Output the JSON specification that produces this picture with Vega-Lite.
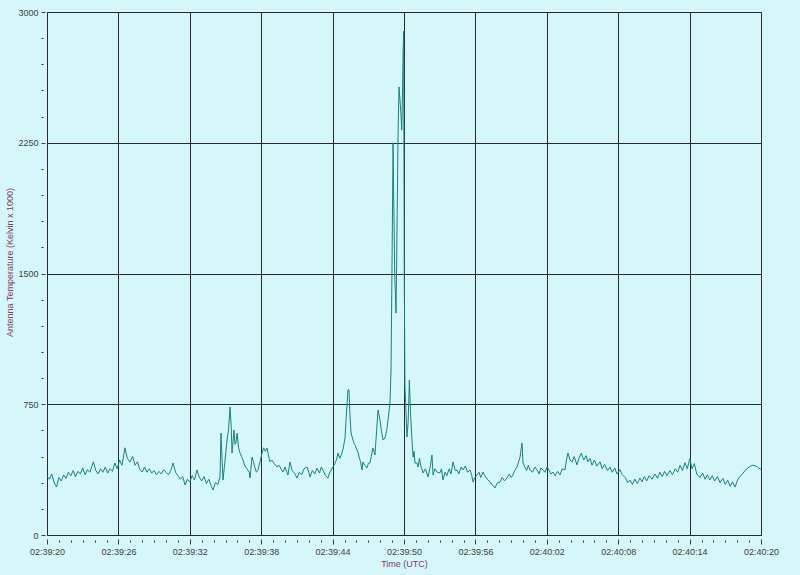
{
  "$schema": "https://vega.github.io/schema/vega-lite/v6.json",
  "width": 714,
  "height": 523,
  "autosize": {"type": "none"},
  "padding": {"left": 47, "top": 12, "right": 39, "bottom": 40},
  "background": "#d5f7f9",
  "config": {
    "view": {"stroke": "#333333", "strokeWidth": 1},
    "axis": {
      "labelFont": "Liberation Sans",
      "titleFont": "Liberation Sans",
      "labelFontSize": 9,
      "titleFontSize": 9,
      "labelColor": "#404040",
      "titleColor": "#804060",
      "titleFontWeight": "normal",
      "tickColor": "#404040",
      "gridColor": "#2a2a2a",
      "gridOpacity": 1,
      "gridWidth": 1,
      "domain": false,
      "labelFlush": false,
      "labelOverlap": false,
      "labelBound": false
    }
  },
  "data": {
    "values": [
      {"sec": 0.0, "temp": 338}, {"sec": 0.2, "temp": 320}, {"sec": 0.4, "temp": 350}, {"sec": 0.6, "temp": 300},
      {"sec": 0.8, "temp": 275}, {"sec": 1.0, "temp": 330}, {"sec": 1.2, "temp": 310}, {"sec": 1.4, "temp": 345},
      {"sec": 1.6, "temp": 325}, {"sec": 1.8, "temp": 360}, {"sec": 2.0, "temp": 340}, {"sec": 2.2, "temp": 370},
      {"sec": 2.4, "temp": 335}, {"sec": 2.6, "temp": 365}, {"sec": 2.8, "temp": 350}, {"sec": 3.0, "temp": 385},
      {"sec": 3.2, "temp": 345}, {"sec": 3.4, "temp": 375}, {"sec": 3.6, "temp": 360}, {"sec": 3.9, "temp": 420},
      {"sec": 4.1, "temp": 370}, {"sec": 4.3, "temp": 350}, {"sec": 4.5, "temp": 380}, {"sec": 4.7, "temp": 360},
      {"sec": 4.9, "temp": 390}, {"sec": 5.1, "temp": 355}, {"sec": 5.3, "temp": 380}, {"sec": 5.5, "temp": 365},
      {"sec": 5.7, "temp": 413}, {"sec": 5.9, "temp": 380}, {"sec": 6.1, "temp": 430}, {"sec": 6.3, "temp": 400},
      {"sec": 6.55, "temp": 500}, {"sec": 6.75, "temp": 440}, {"sec": 6.97, "temp": 419}, {"sec": 7.2, "temp": 450},
      {"sec": 7.4, "temp": 400}, {"sec": 7.6, "temp": 420}, {"sec": 7.8, "temp": 375}, {"sec": 8.0, "temp": 361},
      {"sec": 8.2, "temp": 390}, {"sec": 8.4, "temp": 360}, {"sec": 8.6, "temp": 380}, {"sec": 8.8, "temp": 355},
      {"sec": 9.0, "temp": 370}, {"sec": 9.2, "temp": 345}, {"sec": 9.4, "temp": 365}, {"sec": 9.6, "temp": 350},
      {"sec": 9.8, "temp": 375}, {"sec": 10.0, "temp": 360}, {"sec": 10.2, "temp": 345}, {"sec": 10.4, "temp": 370},
      {"sec": 10.6, "temp": 413}, {"sec": 10.8, "temp": 360}, {"sec": 11.0, "temp": 340}, {"sec": 11.2, "temp": 320},
      {"sec": 11.4, "temp": 335}, {"sec": 11.6, "temp": 287}, {"sec": 11.8, "temp": 320}, {"sec": 12.0, "temp": 305},
      {"sec": 12.2, "temp": 340}, {"sec": 12.4, "temp": 315}, {"sec": 12.6, "temp": 373}, {"sec": 12.8, "temp": 330},
      {"sec": 13.0, "temp": 310}, {"sec": 13.2, "temp": 335}, {"sec": 13.4, "temp": 295}, {"sec": 13.6, "temp": 320},
      {"sec": 13.8, "temp": 280}, {"sec": 13.95, "temp": 258}, {"sec": 14.15, "temp": 300}, {"sec": 14.35, "temp": 290},
      {"sec": 14.54, "temp": 333}, {"sec": 14.62, "temp": 585}, {"sec": 14.72, "temp": 420}, {"sec": 14.79, "temp": 315},
      {"sec": 14.95, "temp": 420}, {"sec": 15.13, "temp": 545}, {"sec": 15.25, "temp": 600}, {"sec": 15.38, "temp": 734},
      {"sec": 15.48, "temp": 620}, {"sec": 15.55, "temp": 470}, {"sec": 15.71, "temp": 602}, {"sec": 15.8, "temp": 520},
      {"sec": 15.88, "temp": 528}, {"sec": 15.97, "temp": 585}, {"sec": 16.1, "temp": 500}, {"sec": 16.22, "temp": 470},
      {"sec": 16.35, "temp": 450}, {"sec": 16.47, "temp": 430}, {"sec": 16.6, "temp": 400}, {"sec": 16.8, "temp": 380},
      {"sec": 17.0, "temp": 360}, {"sec": 17.06, "temp": 327}, {"sec": 17.23, "temp": 447}, {"sec": 17.35, "temp": 420},
      {"sec": 17.48, "temp": 384}, {"sec": 17.6, "temp": 360}, {"sec": 17.73, "temp": 373}, {"sec": 17.9, "temp": 420},
      {"sec": 18.07, "temp": 470}, {"sec": 18.2, "temp": 500}, {"sec": 18.35, "temp": 480}, {"sec": 18.49, "temp": 499},
      {"sec": 18.6, "temp": 460}, {"sec": 18.74, "temp": 419}, {"sec": 18.9, "temp": 430}, {"sec": 19.1, "temp": 410},
      {"sec": 19.33, "temp": 390}, {"sec": 19.5, "temp": 400}, {"sec": 19.7, "temp": 375}, {"sec": 19.83, "temp": 361},
      {"sec": 20.0, "temp": 390}, {"sec": 20.25, "temp": 344}, {"sec": 20.42, "temp": 419}, {"sec": 20.6, "temp": 370},
      {"sec": 20.8, "temp": 355}, {"sec": 21.01, "temp": 327}, {"sec": 21.2, "temp": 360}, {"sec": 21.4, "temp": 345},
      {"sec": 21.6, "temp": 380}, {"sec": 21.85, "temp": 390}, {"sec": 22.0, "temp": 360}, {"sec": 22.1, "temp": 333},
      {"sec": 22.3, "temp": 370}, {"sec": 22.5, "temp": 350}, {"sec": 22.69, "temp": 384}, {"sec": 22.9, "temp": 355},
      {"sec": 23.05, "temp": 390}, {"sec": 23.19, "temp": 373}, {"sec": 23.4, "temp": 340}, {"sec": 23.61, "temp": 327},
      {"sec": 23.78, "temp": 361}, {"sec": 24.03, "temp": 390}, {"sec": 24.2, "temp": 410}, {"sec": 24.37, "temp": 442},
      {"sec": 24.45, "temp": 470}, {"sec": 24.6, "temp": 440}, {"sec": 24.79, "temp": 470}, {"sec": 24.9, "temp": 500},
      {"sec": 25.04, "temp": 556}, {"sec": 25.15, "temp": 680}, {"sec": 25.29, "temp": 832}, {"sec": 25.38, "temp": 832},
      {"sec": 25.45, "temp": 700}, {"sec": 25.55, "temp": 585}, {"sec": 25.71, "temp": 545}, {"sec": 25.85, "temp": 520},
      {"sec": 26.05, "temp": 488}, {"sec": 26.15, "temp": 470}, {"sec": 26.22, "temp": 447}, {"sec": 26.35, "temp": 420},
      {"sec": 26.47, "temp": 373}, {"sec": 26.55, "temp": 419}, {"sec": 26.7, "temp": 400}, {"sec": 26.89, "temp": 384},
      {"sec": 27.0, "temp": 410}, {"sec": 27.14, "temp": 413}, {"sec": 27.25, "temp": 450}, {"sec": 27.39, "temp": 499},
      {"sec": 27.56, "temp": 459}, {"sec": 27.7, "temp": 600}, {"sec": 27.82, "temp": 717}, {"sec": 27.98, "temp": 660},
      {"sec": 28.1, "temp": 600}, {"sec": 28.24, "temp": 545}, {"sec": 28.4, "temp": 556}, {"sec": 28.55, "temp": 600},
      {"sec": 28.66, "temp": 660}, {"sec": 28.82, "temp": 757}, {"sec": 28.91, "temp": 946}, {"sec": 29.0, "temp": 1600},
      {"sec": 29.08, "temp": 2250}, {"sec": 29.14, "temp": 1900}, {"sec": 29.22, "temp": 1500}, {"sec": 29.33, "temp": 1273},
      {"sec": 29.42, "temp": 1800}, {"sec": 29.5, "temp": 2300}, {"sec": 29.58, "temp": 2570}, {"sec": 29.66, "temp": 2495},
      {"sec": 29.74, "temp": 2420}, {"sec": 29.81, "temp": 2323}, {"sec": 29.87, "temp": 2524}, {"sec": 29.92, "temp": 2742},
      {"sec": 29.97, "temp": 2890}, {"sec": 30.02, "temp": 1500}, {"sec": 30.08, "temp": 849}, {"sec": 30.17, "temp": 700},
      {"sec": 30.25, "temp": 562}, {"sec": 30.35, "temp": 650}, {"sec": 30.45, "temp": 889}, {"sec": 30.55, "temp": 700},
      {"sec": 30.67, "temp": 545}, {"sec": 30.76, "temp": 447}, {"sec": 30.85, "temp": 480}, {"sec": 30.92, "temp": 413},
      {"sec": 31.09, "temp": 413}, {"sec": 31.18, "temp": 390}, {"sec": 31.3, "temp": 440}, {"sec": 31.4, "temp": 400},
      {"sec": 31.6, "temp": 356}, {"sec": 31.8, "temp": 380}, {"sec": 32.02, "temp": 333}, {"sec": 32.2, "temp": 390},
      {"sec": 32.35, "temp": 459}, {"sec": 32.44, "temp": 344}, {"sec": 32.6, "temp": 380}, {"sec": 32.8, "temp": 360},
      {"sec": 33.03, "temp": 356}, {"sec": 33.15, "temp": 380}, {"sec": 33.28, "temp": 315}, {"sec": 33.45, "temp": 360},
      {"sec": 33.6, "temp": 340}, {"sec": 33.8, "temp": 380}, {"sec": 33.95, "temp": 350}, {"sec": 34.12, "temp": 419},
      {"sec": 34.3, "temp": 370}, {"sec": 34.45, "temp": 373}, {"sec": 34.6, "temp": 350}, {"sec": 34.8, "temp": 390},
      {"sec": 34.96, "temp": 373}, {"sec": 35.15, "temp": 395}, {"sec": 35.35, "temp": 360}, {"sec": 35.55, "temp": 373},
      {"sec": 35.7, "temp": 340}, {"sec": 35.8, "temp": 304}, {"sec": 35.95, "temp": 330}, {"sec": 36.13, "temp": 344},
      {"sec": 36.3, "temp": 360}, {"sec": 36.45, "temp": 330}, {"sec": 36.64, "temp": 361}, {"sec": 36.8, "temp": 340},
      {"sec": 37.0, "temp": 320}, {"sec": 37.23, "temp": 304}, {"sec": 37.4, "temp": 290}, {"sec": 37.65, "temp": 270},
      {"sec": 37.85, "temp": 300}, {"sec": 38.07, "temp": 304}, {"sec": 38.25, "temp": 330}, {"sec": 38.45, "temp": 310},
      {"sec": 38.66, "temp": 327}, {"sec": 38.85, "temp": 350}, {"sec": 39.0, "temp": 330}, {"sec": 39.16, "temp": 344},
      {"sec": 39.3, "temp": 370}, {"sec": 39.5, "temp": 390}, {"sec": 39.75, "temp": 447}, {"sec": 39.92, "temp": 528},
      {"sec": 40.0, "temp": 413}, {"sec": 40.15, "temp": 390}, {"sec": 40.3, "temp": 370}, {"sec": 40.45, "temp": 400},
      {"sec": 40.59, "temp": 373}, {"sec": 40.8, "temp": 360}, {"sec": 41.0, "temp": 390}, {"sec": 41.18, "temp": 373},
      {"sec": 41.35, "temp": 350}, {"sec": 41.5, "temp": 385}, {"sec": 41.68, "temp": 373}, {"sec": 41.85, "temp": 360},
      {"sec": 42.02, "temp": 390}, {"sec": 42.2, "temp": 370}, {"sec": 42.35, "temp": 350}, {"sec": 42.52, "temp": 361},
      {"sec": 42.7, "temp": 340}, {"sec": 42.9, "temp": 365}, {"sec": 43.11, "temp": 344}, {"sec": 43.3, "temp": 380},
      {"sec": 43.53, "temp": 373}, {"sec": 43.65, "temp": 430}, {"sec": 43.78, "temp": 470}, {"sec": 43.95, "temp": 430},
      {"sec": 44.12, "temp": 419}, {"sec": 44.3, "temp": 450}, {"sec": 44.54, "temp": 402}, {"sec": 44.7, "temp": 440},
      {"sec": 44.9, "temp": 470}, {"sec": 45.1, "temp": 430}, {"sec": 45.3, "temp": 455}, {"sec": 45.45, "temp": 420},
      {"sec": 45.63, "temp": 440}, {"sec": 45.8, "temp": 400}, {"sec": 46.0, "temp": 430}, {"sec": 46.2, "temp": 395},
      {"sec": 46.47, "temp": 420}, {"sec": 46.65, "temp": 380}, {"sec": 46.85, "temp": 405}, {"sec": 47.1, "temp": 370},
      {"sec": 47.31, "temp": 390}, {"sec": 47.5, "temp": 360}, {"sec": 47.7, "temp": 385}, {"sec": 47.9, "temp": 350},
      {"sec": 48.15, "temp": 375}, {"sec": 48.35, "temp": 345}, {"sec": 48.6, "temp": 330}, {"sec": 48.8, "temp": 300},
      {"sec": 48.99, "temp": 315}, {"sec": 49.2, "temp": 290}, {"sec": 49.4, "temp": 320}, {"sec": 49.6, "temp": 295},
      {"sec": 49.83, "temp": 327}, {"sec": 50.0, "temp": 305}, {"sec": 50.2, "temp": 335}, {"sec": 50.4, "temp": 310},
      {"sec": 50.6, "temp": 340}, {"sec": 50.85, "temp": 320}, {"sec": 51.09, "temp": 350}, {"sec": 51.3, "temp": 325},
      {"sec": 51.5, "temp": 360}, {"sec": 51.7, "temp": 335}, {"sec": 51.9, "temp": 365}, {"sec": 52.1, "temp": 340},
      {"sec": 52.35, "temp": 370}, {"sec": 52.55, "temp": 345}, {"sec": 52.8, "temp": 380}, {"sec": 53.0, "temp": 360},
      {"sec": 53.2, "temp": 400}, {"sec": 53.4, "temp": 370}, {"sec": 53.61, "temp": 415}, {"sec": 53.8, "temp": 380},
      {"sec": 54.03, "temp": 440}, {"sec": 54.2, "temp": 380}, {"sec": 54.4, "temp": 410}, {"sec": 54.6, "temp": 350},
      {"sec": 54.87, "temp": 330}, {"sec": 55.1, "temp": 355}, {"sec": 55.3, "temp": 320}, {"sec": 55.5, "temp": 345},
      {"sec": 55.7, "temp": 315}, {"sec": 55.9, "temp": 340}, {"sec": 56.1, "temp": 310}, {"sec": 56.35, "temp": 335},
      {"sec": 56.55, "temp": 300}, {"sec": 56.8, "temp": 325}, {"sec": 57.0, "temp": 290}, {"sec": 57.2, "temp": 315},
      {"sec": 57.4, "temp": 280}, {"sec": 57.6, "temp": 305}, {"sec": 57.82, "temp": 275}, {"sec": 58.0, "temp": 310},
      {"sec": 58.2, "temp": 335}, {"sec": 58.45, "temp": 350}, {"sec": 58.66, "temp": 370}, {"sec": 58.9, "temp": 385},
      {"sec": 59.1, "temp": 395}, {"sec": 59.3, "temp": 400}, {"sec": 59.5, "temp": 398}, {"sec": 59.7, "temp": 390},
      {"sec": 59.92, "temp": 380}, {"sec": 60.0, "temp": 375}
    ]
  },
  "layer": [
    {
      "mark": {"type": "line", "color": "#1a8080", "strokeWidth": 1, "interpolate": "linear"},
      "encoding": {
        "x": {
          "field": "sec",
          "type": "quantitative",
          "scale": {"domain": [0, 60], "nice": false, "zero": false},
          "axis": {
            "orient": "bottom",
            "values": [0, 6, 12, 18, 24, 30, 36, 42, 48, 54, 60],
            "labelExpr": "'02:' + (datum.value < 40 ? '39:' + (20 + datum.value) : '40:' + (datum.value - 40 < 10 ? '0' : '') + (datum.value - 40))",
            "grid": true,
            "offset": 4,
            "tickSize": 5,
            "labelPadding": 3,
            "title": "Time (UTC)",
            "titleX": 357,
            "titleY": 20
          }
        },
        "y": {
          "field": "temp",
          "type": "quantitative",
          "scale": {"domain": [0, 3000], "nice": false, "zero": true},
          "axis": {
            "orient": "left",
            "values": [0, 750, 1500, 2250, 3000],
            "format": "d",
            "grid": true,
            "offset": 2,
            "tickSize": 4,
            "labelPadding": 3,
            "title": "Antenna Temperature (Kelvin x 1000)",
            "titleX": -31,
            "titleY": 250
          }
        }
      }
    },
    {
      "mark": {"type": "line", "opacity": 0},
      "encoding": {
        "x": {
          "field": "sec",
          "type": "quantitative",
          "axis": {
            "orient": "bottom",
            "values": [1, 2, 3, 4, 5, 7, 8, 9, 10, 11, 13, 14, 15, 16, 17, 19, 20, 21, 22, 23, 25, 26, 27, 28, 29, 31, 32, 33, 34, 35, 37, 38, 39, 40, 41, 43, 44, 45, 46, 47, 49, 50, 51, 52, 53, 55, 56, 57, 58, 59],
            "labels": false,
            "grid": false,
            "offset": 5,
            "tickSize": 2,
            "tickColor": "#303030",
            "title": null
          }
        },
        "y": {
          "field": "temp",
          "type": "quantitative",
          "axis": {
            "orient": "left",
            "values": [150, 300, 450, 600, 900, 1050, 1200, 1350, 1650, 1800, 1950, 2100, 2400, 2550, 2700, 2850],
            "labels": false,
            "grid": false,
            "offset": 4,
            "tickSize": 2,
            "tickColor": "#303030",
            "title": null
          }
        }
      }
    }
  ],
  "resolve": {"axis": {"x": "independent", "y": "independent"}}
}
